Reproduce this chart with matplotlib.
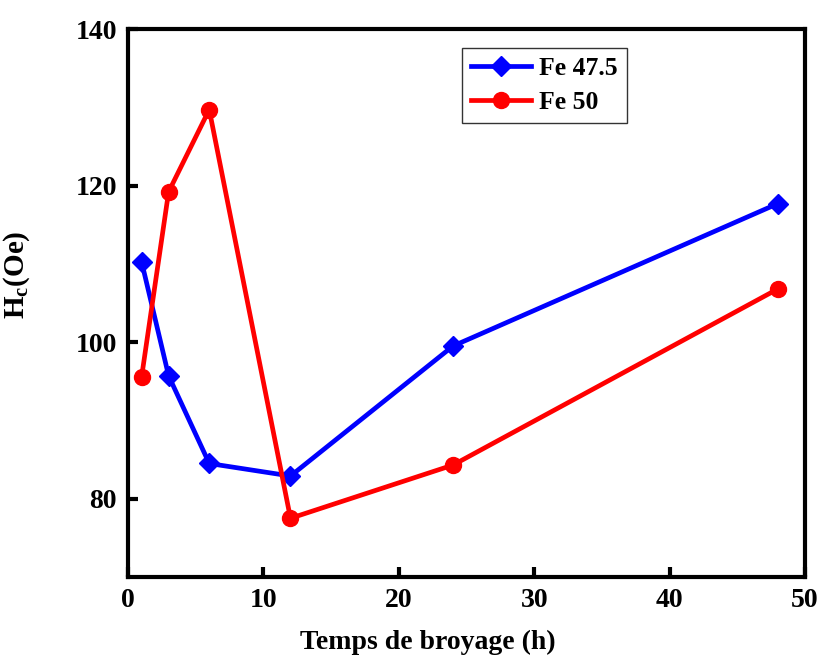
import matplotlib
matplotlib.use("Agg")
import matplotlib.pyplot as plt

# Milling time (h) and coercive field Hc (Oe)
time_h = [1, 3, 6, 12, 24, 48]
hc_fe475 = [110.3, 95.7, 84.5, 82.9, 99.5, 117.7]
hc_fe50 = [95.5, 119.2, 129.7, 77.5, 84.3, 106.8]
labels = ["Fe 47.5", "Fe 50"]

plt.rcParams["font.family"] = "Liberation Serif"
plt.rcParams["font.weight"] = "bold"
plt.rcParams["mathtext.fontset"] = "custom"
plt.rcParams["mathtext.rm"] = "Liberation Serif:bold"
plt.rcParams["mathtext.bf"] = "Liberation Serif:bold"
plt.rcParams["mathtext.it"] = "Liberation Serif:bold"

fig = plt.figure(figsize=(8.21, 6.58), dpi=100)
ax = fig.add_axes([128 / 821, 1 - 577 / 658, 677 / 821, 548 / 658])

ax.plot(time_h, hc_fe475, color="#0000ff", lw=3.4, marker="D", ms=10.5,
        label=labels[0])
ax.plot(time_h, hc_fe50, color="#ff0000", lw=3.4, marker="o", ms=11.5,
        label=labels[1])

ax.set_xlim(0, 50)
ax.set_ylim(70, 140)
ax.set_xticks([0, 10, 20, 30, 40, 50])
ax.set_yticks([80, 100, 120, 140])

for s in ax.spines.values():
    s.set_linewidth(3)
ax.tick_params(direction="in", length=7, width=3, labelsize=20, pad=8)
for t in ax.get_xticklabels() + ax.get_yticklabels():
    t.set_fontweight("bold")

ax.set_xlabel("Temps de broyage (h)", fontsize=20, fontweight="bold", labelpad=14)
ax.xaxis.set_label_coords(0.443, -0.097, transform=ax.transAxes)
ax.xaxis.label.set_verticalalignment("top")
ax.set_ylabel(r"H$_{\mathbf{c}}$(Oe)", fontsize=21, fontweight="bold")
ax.yaxis.set_label_coords(-0.142, 0.551, transform=ax.transAxes)

leg = ax.legend(loc="upper left", bbox_to_anchor=(0.4934, 0.9653),
                frameon=True, fancybox=False, edgecolor="black",
                handlelength=2.35, handletextpad=0.3, borderpad=0.35,
                labelspacing=0.42, borderaxespad=0,
                prop={"weight": "bold", "size": 18.5})
leg.get_frame().set_linewidth(1.0)

fig.savefig("out.png", dpi=100)
